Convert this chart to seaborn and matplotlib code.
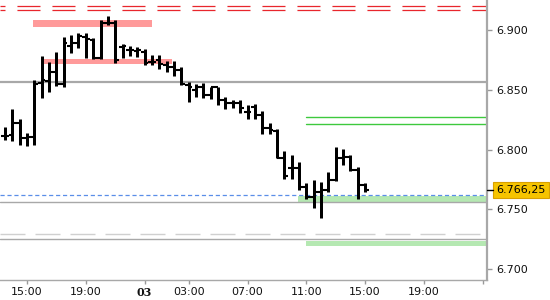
import matplotlib
matplotlib.use("Agg")
import matplotlib.pyplot as plt
import seaborn as sns
import numpy as np

# ---- data (30-minute OHLC bars) ----
opens = [6.8114, 6.8122, 6.8220, 6.8095, 6.8108, 6.8560, 6.8576, 6.8651, 6.8549, 6.8866,
         6.8889, 6.8939, 6.8916, 6.8763, 6.9061, 6.9061, 6.8858, 6.8833, 6.8825, 6.8819,
         6.8735, 6.8749, 6.8707, 6.8693, 6.8666, 6.8540, 6.8499, 6.8526, 6.8457, 6.8526,
         6.8415, 6.8387, 6.8387, 6.8317, 6.8359, 6.8290, 6.8178, 6.8159, 6.7928, 6.7844,
         6.7844, 6.7690, 6.7607, 6.7649, 6.7663, 6.7746, 6.7928, 6.7941, 6.7830, 6.7705]
highs = [6.8187, 6.8337, 6.8254, 6.8142, 6.8582, 6.8783, 6.8735, 6.8819, 6.8944, 6.8958,
         6.8977, 6.8977, 6.8931, 6.9084, 6.9117, 6.9084, 6.8883, 6.8866, 6.8860, 6.8839,
         6.8791, 6.8791, 6.8743, 6.8743, 6.8691, 6.8568, 6.8549, 6.8555, 6.8526, 6.8526,
         6.8437, 6.8415, 6.8415, 6.8373, 6.8382, 6.8326, 6.8220, 6.8170, 6.7989, 6.7955,
         6.7899, 6.7724, 6.7746, 6.7732, 6.7816, 6.8025, 6.8003, 6.7955, 6.7852, 6.7719]
lows = [6.8081, 6.8075, 6.8039, 6.8030, 6.8039, 6.8429, 6.8484, 6.8532, 6.8526, 6.8805,
        6.8847, 6.8763, 6.8755, 6.8755, 6.9042, 6.8722, 6.8766, 6.8783, 6.8777, 6.8707,
        6.8707, 6.8674, 6.8651, 6.8616, 6.8540, 6.8401, 6.8443, 6.8429, 6.8421, 6.8373,
        6.8337, 6.8348, 6.8309, 6.8254, 6.8254, 6.8131, 6.8131, 6.7928, 6.7752, 6.7752,
        6.7663, 6.7585, 6.7510, 6.7426, 6.7649, 6.7740, 6.7872, 6.7824, 6.7585, 6.7649]
closes = [6.8114, 6.8220, 6.8097, 6.8108, 6.8549, 6.8582, 6.8651, 6.8549, 6.8889, 6.8889,
          6.8950, 6.8922, 6.8763, 6.9056, 6.9056, 6.8749, 6.8866, 6.8833, 6.8833, 6.8722,
          6.8735, 6.8716, 6.8693, 6.8666, 6.8549, 6.8526, 6.8526, 6.8457, 6.8526, 6.8415,
          6.8387, 6.8387, 6.8346, 6.8317, 6.8290, 6.8178, 6.8164, 6.7928, 6.7780, 6.7844,
          6.7690, 6.7607, 6.7649, 6.7663, 6.7746, 6.7928, 6.7941, 6.7830, 6.7705, 6.76625]

tick_pos = [3, 11, 19, 25, 33, 41, 49, 57, 65]
tick_labels = ["15:00", "19:00", "03", "03:00", "07:00", "11:00", "15:00", "19:00", ""]
y_ticks = [6.700, 6.750, 6.800, 6.850, 6.900]
y_tick_labels = ["6.700", "6.750", "6.800", "6.850", "6.900"]

red_dash_levels = [6.9197, 6.9167]
gray_levels = [6.8568, 6.7565, 6.7250]
gray_widths = [1.6, 1.0, 1.0]
light_dash_level = 6.7292
blue_dash_level = 6.7622
green_line_levels = [6.8275, 6.8212]
green_line_start = 41.0
red_zones = [(3.8, 20.0, 6.9025, 6.9084), (5.0, 22.7, 6.8713, 6.8755)]
green_zones = [(39.8, 65.6, 6.7565, 6.7615), (41.0, 65.6, 6.7195, 6.7239)]
last_label = "6.766,25"

# ---- style ----
sns.set_style("white")
plt.rcParams["font.family"] = ["DejaVu Sans"]
plt.rcParams["lines.scale_dashes"] = False

fig = plt.figure(figsize=(5.5, 3.0), dpi=100)
ax = fig.add_axes([0, 20 / 300, 487 / 550, 280 / 300])
xmin, xmax = -0.68, 65.58
ymin, ymax = 6.69105, 6.92507
ax.set_xlim(xmin, xmax)
ax.set_ylim(ymin, ymax)

# zones
for x0, x1, y0, y1 in red_zones:
    ax.fill_between([x0, x1], y0, y1, color="#ff9a9a", lw=0, zorder=1)
for x0, x1, y0, y1 in green_zones:
    ax.fill_between([x0, x1], y0, y1, color="#b5e8b2", lw=0, zorder=1)

# horizontal lines
for lvl in red_dash_levels:
    ax.axhline(lvl, color="#e8262c", lw=0.9, linestyle=(13, (16.6, 8.6)), zorder=2)
for lvl, w in zip(gray_levels, gray_widths):
    ax.axhline(lvl, color="#a8a8a8", lw=w, zorder=2)
ax.plot([xmin, 64.7], [light_dash_level] * 2, color="#d0d0d0", lw=1.0,
        linestyle=(0, (18, 7.2)), zorder=2)
ax.axhline(blue_dash_level, color="#5a8ee8", lw=0.9, linestyle=(0, (3.0, 2.0)), zorder=2)
for lvl in green_line_levels:
    ax.plot([green_line_start, xmax], [lvl, lvl], color="#3ec93e", lw=1.0, zorder=2)

# OHLC bars
x = np.arange(len(opens))
tw = 0.5
ax.vlines(x, lows, highs, color="black", lw=2.16, zorder=3)
ax.hlines(opens, x - tw, x, color="black", lw=1.5, zorder=3)
ax.hlines(closes, x, x + tw, color="black", lw=1.5, zorder=3)

# axes styling
for s in ["left", "top"]:
    ax.spines[s].set_visible(False)
ax.spines["right"].set_color("#a8a8a8")
ax.spines["right"].set_linewidth(1.6)
ax.spines["bottom"].set_color("#a8a8a8")
ax.spines["bottom"].set_linewidth(1.0)

ax.yaxis.tick_right()
ax.set_yticks(y_ticks)
ax.set_yticklabels(y_tick_labels)
ax.tick_params(axis="y", which="both", right=True, left=False, length=3.6, width=1,
               color="#999999", pad=3.2, labelsize=8, labelcolor="#111111")
ax.set_xticks(tick_pos)
ax.set_xticklabels(tick_labels)
ax.tick_params(axis="x", which="both", bottom=True, length=2.9, width=1,
               color="#999999", pad=2.0, labelsize=8, labelcolor="#111111")
for lbl in ax.get_xticklabels():
    if lbl.get_text() == "03":
        lbl.set_fontfamily("DejaVu Serif")
        lbl.set_fontweight("bold")

# last price marker and label
ax.plot([1.0, 1.0 + 6 / 487], [closes[-1]] * 2, color="black", lw=1.0,
        transform=ax.get_yaxis_transform(), clip_on=False, zorder=5)
ax.annotate(last_label, xy=(1.0, closes[-1]), xycoords=("axes fraction", "data"),
            xytext=(24.5, 0), textcoords="offset points", ha="center", va="center",
            fontsize=8, color="black",
            bbox=dict(boxstyle="square,pad=0.28", fc="#f6c400", ec="#d9a000", lw=0.8),
            annotation_clip=False)

fig.savefig("out.png", dpi=100)
